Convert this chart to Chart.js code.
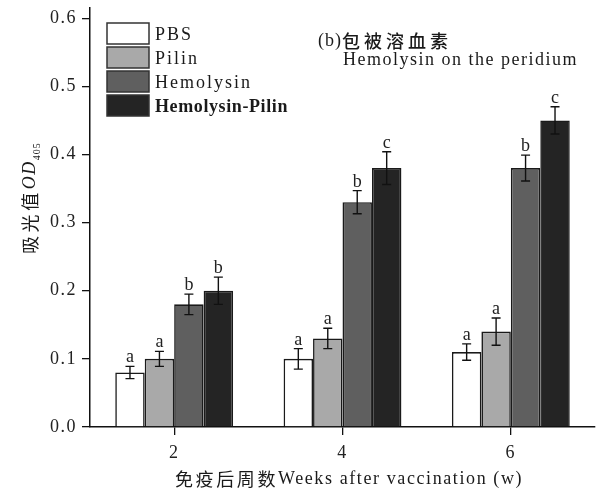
<!DOCTYPE html>
<html>
<head>
<meta charset="utf-8">
<script src="https://cdn.jsdelivr.net/npm/chart.js@4.4.1/dist/chart.umd.min.js"></script>
<style>
  html, body { margin: 0; padding: 0; background: #fff; }
  #wrap { width: 598px; height: 493px; position: relative; }
</style>
</head>
<body>
<div id="wrap"><canvas id="c"></canvas></div>
<script>
// weeks after vaccination
const weeks = ['2', '4', '6'];
const groupNames = ['PBS', 'Pilin', 'Hemolysin', 'Hemolysin-Pilin'];

// OD405 means + error
const pbs          = [0.08, 0.10, 0.11];
const pbsErr       = [0.009, 0.015, 0.012];
const pilin        = [0.10, 0.13, 0.14];
const pilinErr     = [0.011, 0.015, 0.020];
const hemolysin    = [0.18, 0.33, 0.38];
const hemolysinErr = [0.015, 0.017, 0.019];
const hemPilin     = [0.20, 0.38, 0.45];
const hemPilinErr  = [0.020, 0.024, 0.020];

// significance letters
const pbsSig       = ['a', 'a', 'a'];
const pilinSig     = ['a', 'a', 'a'];
const hemolysinSig = ['b', 'b', 'b'];
const hemPilinSig  = ['b', 'c', 'c'];

const yTicks = [0, 0.1, 0.2, 0.3, 0.4, 0.5, 0.6];

const fills = ['#ffffff', '#a9a9a9', '#5f5f5f', '#242424'];
const EDGE  = '#1a1a1a';
const SERIF = '"Liberation Serif", "Times New Roman", serif';
const CJK   = '"Noto Sans CJK SC", sans-serif';

// draws consecutive text pieces (mixed fonts) starting at x
function drawRun(ctx, parts, x, y) {
  for (const p of parts) {
    ctx.font = p.font;
    ctx.letterSpacing = p.sp || '0px';
    ctx.fillText(p.t, x, y + (p.dy || 0));
    x += ctx.measureText(p.t).width;
  }
  return x;
}

const spacingPlugin = {
  id: 'spacing',
  beforeDraw(chart) { chart.ctx.letterSpacing = '1.5px'; },
};

const errorBars = {
  id: 'errorBars',
  afterDatasetsDraw(chart) {
    const { ctx } = chart;
    const ys = chart.scales.y;
    ctx.save();
    ctx.strokeStyle = '#111';
    ctx.lineWidth = 1.4;
    ctx.fillStyle = '#222';
    ctx.font = `18px ${SERIF}`;
    ctx.letterSpacing = '0px';
    ctx.textAlign = 'center';
    ctx.textBaseline = 'alphabetic';
    chart.data.datasets.forEach((ds, di) => {
      const meta = chart.getDatasetMeta(di);
      meta.data.forEach((bar, i) => {
        const v = ds.data[i], e = ds.err[i];
        const yt = ys.getPixelForValue(v + e);
        const yb = ys.getPixelForValue(v - e);
        const x = bar.x;
        ctx.beginPath();
        ctx.moveTo(x, yt); ctx.lineTo(x, yb);
        ctx.moveTo(x - 4.5, yt); ctx.lineTo(x + 4.5, yt);
        ctx.moveTo(x - 4.5, yb); ctx.lineTo(x + 4.5, yb);
        ctx.stroke();
        ctx.fillText(ds.sig[i], x, yt - 4);
      });
    });
    ctx.restore();
  },
};

const decorations = {
  id: 'decorations',
  afterDraw(chart) {
    const { ctx } = chart;
    ctx.save();
    ctx.fillStyle = '#1a1a1a';
    ctx.textAlign = 'left';
    ctx.textBaseline = 'middle';

    // legend
    chart.data.datasets.forEach((ds, i) => {
      const bx = 107, by = 23 + i * 24;
      ctx.fillStyle = ds.backgroundColor;
      ctx.fillRect(bx, by, 42, 21);
      ctx.strokeStyle = '#333';
      ctx.lineWidth = 1.5;
      ctx.strokeRect(bx, by, 42, 21);
      ctx.fillStyle = '#1a1a1a';
      const bold = i === 3;
      drawRun(ctx, [{ t: ds.label, font: `${bold ? 'bold ' : ''}18px ${SERIF}`, sp: bold ? '0.6px' : '2px' }], 155, by + 12);
    });

    // panel title
    drawRun(ctx, [
      { t: '(b)', font: `18px ${SERIF}`, sp: '1px' },
      { t: '包被溶血素', font: `500 18px ${CJK}`, sp: '4px' },
    ], 318, 41);
    drawRun(ctx, [{ t: 'Hemolysin on the peridium', font: `18px ${SERIF}`, sp: '1.5px' }], 343, 60);

    // x axis title
    drawRun(ctx, [
      { t: '免疫后周数', font: `18px ${CJK}`, sp: '2.6px' },
      { t: 'Weeks after vaccination (w)', font: `18px ${SERIF}`, sp: '1.6px' },
    ], 175, 479);

    // y axis title (rotated)
    ctx.translate(30, 254);
    ctx.rotate(-Math.PI / 2);
    drawRun(ctx, [
      { t: '吸光值', font: `18px ${CJK}`, sp: '3.6px' },
      { t: 'OD', font: `italic 18px ${SERIF}`, sp: '1.5px' },
      { t: '405', font: `10px ${SERIF}`, sp: '1px', dy: 7 },
    ], 0, 0);
    ctx.restore();
  },
};

const series = [
  [pbs, pbsErr, pbsSig],
  [pilin, pilinErr, pilinSig],
  [hemolysin, hemolysinErr, hemolysinSig],
  [hemPilin, hemPilinErr, hemPilinSig],
];

new Chart(document.getElementById('c'), {
  type: 'bar',
  data: {
    labels: weeks,
    datasets: series.map(([vals, err, sig], i) => ({
      label: groupNames[i],
      data: vals,
      err: err,
      sig: sig,
      backgroundColor: fills[i],
      borderColor: EDGE,
      borderWidth: 1.6,
      categoryPercentage: 0.7,
      barPercentage: 1.0,
    })),
  },
  options: {
    responsive: true,
    maintainAspectRatio: false,
    animation: false,
    layout: { padding: { top: 8, right: 3, left: 0, bottom: 0 } },
    plugins: {
      legend: { display: false },
      tooltip: { enabled: false },
    },
    scales: {
      x: {
        ticks: { font: { family: SERIF, size: 18 }, color: '#222', padding: 7 },
        grid: { offset: false, drawOnChartArea: false, tickLength: 8, color: '#111', lineWidth: 1.3 },
        border: { color: '#111', width: 1.5 },
        afterFit: s => { s.height = 66; s.paddingLeft = 0; s.paddingRight = 0; },
      },
      y: {
        min: 0,
        max: 0.615,
        afterBuildTicks: s => { s.ticks = yTicks.map(v => ({ value: v })); },
        ticks: {
          callback: v => v.toFixed(1),
          font: { family: SERIF, size: 18 },
          color: '#222',
          padding: 5,
        },
        grid: { drawOnChartArea: false, tickLength: 8, color: '#111', lineWidth: 1.3 },
        border: { color: '#111', width: 1.5 },
        afterFit: s => { s.width = 90; s.paddingTop = 0; s.paddingBottom = 0; },
      },
    },
  },
  plugins: [spacingPlugin, errorBars, decorations],
});
</script>
</body>
</html>
